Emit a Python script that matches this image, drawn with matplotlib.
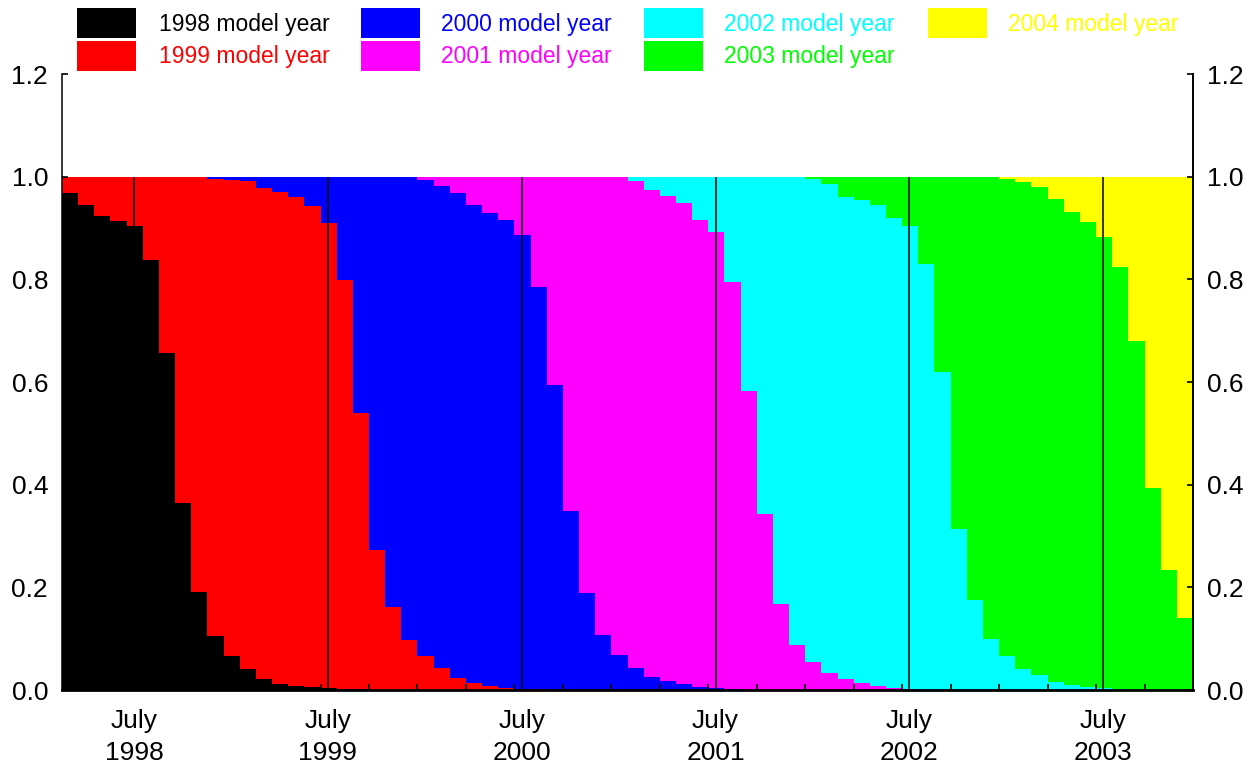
import numpy as np
import pandas as pd
import matplotlib
matplotlib.use("Agg")
import matplotlib.pyplot as plt
from matplotlib.patches import Rectangle

plt.rcParams['font.family'] = ['Liberation Sans', 'DejaVu Sans']

# Monthly periods (first = March 1998, last = December 2003)
months = pd.period_range('1998-03', periods=70, freq='M')

labels = ['1998 model year', '1999 model year', '2000 model year', '2001 model year',
          '2002 model year', '2003 model year', '2004 model year']
colors = ['#000000', '#FF0000', '#0000FF', '#FF00FF', '#00FFFF', '#00FF00', '#FFFF00']

# Share of each model year, per month
s1998 = [.968, .945, .923, .913, .904, .838, .657, .364, .190, .105, .066, .040,
         .021, .012, .008, .005, .003, .002, .001] + [0] * 51
s1999 = [.032, .055, .077, .087, .096, .162, .343, .636, .810, .890, .928, .952,
         .957, .959, .952, .938, .907, .797, .538, .273, .162, .097, .067, .042,
         .023, .013, .008, .004, .002, .001] + [0] * 40
s2000 = [0] * 9 + [.005, .006, .008,
         .022, .029, .040, .057, .090, .201, .461, .727, .838, .903, .926, .940,
         .945, .932, .921, .911, .885, .785, .595, .348, .188, .107, .068, .043,
         .026, .018, .011, .005, .003, .001] + [0] * 28
s2001 = [0] * 22 + [.007, .018,
         .032, .055, .071, .085, .113, .214, .405, .652, .812, .893, .932, .949,
         .949, .945, .938, .911, .890, .794, .582, .343, .168, .088, .055, .033,
         .021, .013, .008, .004, .002] + [0] * 17
s2002 = [0] * 35 + [.008,
         .025, .037, .051, .084, .107, .205, .418, .657, .832, .912, .940, .953,
         .939, .941, .937, .915, .902, .830, .619, .313, .175, .099, .066, .041,
         .029, .016, .010, .005, .003, .001] + [0] * 4
s2003 = [0] * 46 + [.005, .014,
         .040, .046, .055, .081, .096, .170, .381, .687, .825, .901, .929, .949,
         .951, .941, .922, .906, .879, .823, .680, .393, .234, .140]
s2004 = [0] * 58 + [.005, .010,
         .020, .043, .068, .089, .118, .176, .320, .607, .766, .860]

series = [s1998, s1999, s2000, s2001, s2002, s2003, s2004]

W, H = 1260, 768
fig = plt.figure(figsize=(W / 100, H / 100), dpi=100)
ax = fig.add_axes([62 / W, 1 - 690 / H, (1193 - 62) / W, (690 - 74) / H])

n = len(months)
x_edges = np.arange(n + 1)
base = np.zeros(n)
for vals, col in zip(series, colors):
    v = np.asarray(vals, dtype=float)
    top = base + v
    ax.fill_between(x_edges, np.append(base, base[-1]), np.append(top, top[-1]),
                    step='post', color=col, linewidth=0, antialiased=False)
    base = top

month_num = np.array([p.month for p in months])
years = np.array([p.year for p in months])
july_idx = np.where(month_num == 7)[0]
july_pos = july_idx + 0.45
quarter_pos = np.where(np.isin(month_num, [1, 4, 7, 10]))[0]
jan_pos = np.where(month_num == 1)[0]

ax.vlines(july_pos, 0, 1.0, color='black', linewidth=1.1, zorder=3)

ax.set_xlim(0, n)
ax.set_ylim(0, 1.2)

ax.set_xticks(july_pos)
ax.set_xticklabels([f'July\n{y}' for y in years[july_idx]], fontsize=19, linespacing=1.4)
ax.tick_params(axis='x', which='major', length=0, pad=14)
ax.set_xticks(quarter_pos, minor=True)
ax.tick_params(axis='x', which='minor', direction='in', length=4.5, width=1.2, color='black')

sec = ax.secondary_xaxis('bottom')
sec.set_xticks(jan_pos)
sec.set_xticklabels([])
sec.tick_params(axis='x', direction='in', length=9.5, width=1.5, color='black')
sec.spines['bottom'].set_visible(False)

yt = np.arange(0, 1.21, 0.2)
ax.set_yticks(yt)
ax.set_yticklabels([f'{v:.1f}' for v in yt], fontsize=19)
ax.tick_params(axis='y', which='both', direction='in', length=4, width=1.2,
               left=True, right=True, labelleft=True, labelright=True, pad=10)

ax.spines['top'].set_visible(False)
ax.spines['bottom'].set_linewidth(2.0)
ax.spines['left'].set_linewidth(1.1)
ax.spines['right'].set_linewidth(1.4)
for s in ax.spines.values():
    s.set_zorder(5)

# Manual legend (figure pixel layout)
patch_x = [77, 361, 644, 928]
text_x = [159, 441, 724, 1008]
row_top = [8, 41]
row_mid = [25, 57]
for i, (lab, col) in enumerate(zip(labels, colors)):
    c, r = divmod(i, 2)
    fig.patches.append(Rectangle((patch_x[c] / W, 1 - (row_top[r] + 30) / H), 59 / W, 30 / H,
                                 transform=fig.transFigure, figure=fig,
                                 facecolor=col, edgecolor='none'))
    fig.text(text_x[c] / W, 1 - row_mid[r] / H, lab, color=col, fontsize=16.5,
             ha='left', va='center')

fig.savefig('out.png', dpi=100)
